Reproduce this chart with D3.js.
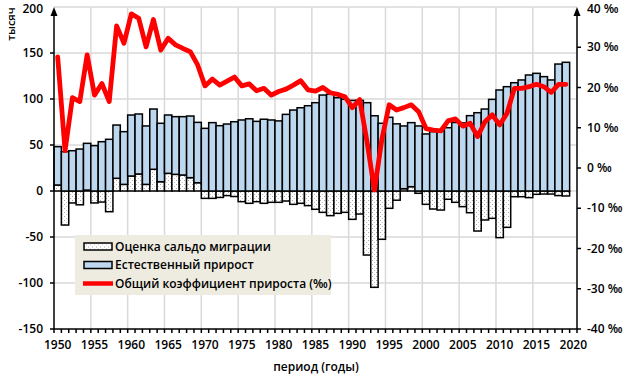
<!DOCTYPE html>
<html>
<head>
<meta charset="utf-8">
<script src="https://cdn.jsdelivr.net/npm/d3@7"></script>
<style>
  body { margin: 0; background: #fff; }
  text { font-family: "Open Sans", "DejaVu Sans", sans-serif; font-weight: 600; fill: #000; }
</style>
</head>
<body>
<div class="chart"></div>
<script>
const width = 627;
const height = 380;

// годы 1950..2019 (2020 - пустая позиция на оси)
const years = d3.range(1950, 2020);
const axisYears = d3.range(1950, 2021);

// оценка сальдо миграции, тыс.
const migration = [
  6.5, -37, -13, -15, 1, -13, -12, -22.5, 13.8, 7.2,
  16.3, 18.5, 7.2, 23.6, 10.1, 19.2, 18.1, 17.4, 14.5, 9,
  -8, -8, -7, -5, -6, -11.6, -13.4, -11.6, -13.4, -12.3,
  -12.3, -10.9, -14.5, -13.4, -15.9, -19.9, -23.2, -26.8, -24.3, -23.2,
  -30.8, -25, -69.6, -104.7, -52.5, -18.8, -10, 2.5, 4.7, -2.5,
  -14.5, -19.6, -20.7, -9, -12.3, -17, -23.6, -43.5, -31.5, -29.7,
  -50.7, -39.5, -6.2, -6.2, -7.2, -3.6, -3.3, -3.3, -5, -5.4
];

// естественный прирост, тыс.
const natural = [
  41.7, 42.7, 43.8, 45.6, 50.8, 49.3, 53.6, 56.2, 57.9, 57.3,
  66.3, 65.2, 63.5, 65.5, 63.5, 63.4, 62.7, 63.4, 67, 65.6,
  68.1, 74.3, 71, 72.8, 75.3, 77.2, 78.5, 75.7, 78, 77.2,
  76.2, 83.3, 88, 90.5, 92.7, 96, 104.3, 105.2, 101.4, 99.8,
  98.5, 98.5, 96, 81.8, 73.6, 80.1, 73, 68.2, 69.6, 70.7,
  62, 64.5, 65.2, 68.8, 74.5, 74, 81.9, 85.1, 89.1, 99.6,
  109.8, 113.4, 117.7, 120.7, 126.1, 127.9, 124.3, 120.7, 138, 139.9
];

// общий коэффициент прироста, ‰
const growthRate = [
  27.6, 4.3, 17.5, 16.5, 28.1, 18.1, 21, 16.5, 35.3, 31,
  38.3, 37.2, 30.1, 36.9, 29.3, 32.2, 30.6, 29.7, 28.9, 25.6,
  20.4, 22.1, 20.6, 21.6, 22.6, 20.4, 20.9, 19.2, 19.8, 18.1,
  19, 19.6, 20.6, 21.7, 19.4, 19.1, 20, 18.7, 18.3, 17.7,
  15, 17, 6.5, -5.5, 7, 15.7, 14.4, 15, 15.7, 14,
  9.8, 9.4, 9.2, 11.7, 12.2, 10.4, 11.1, 7.8, 11.5, 13.2,
  10.7, 13.6, 19.8, 19.8, 20.2, 20.8, 20.2, 18.8, 20.8, 20.8
];

const leftTicks = [-150, -100, -50, 0, 50, 100, 150, 200];
const rightTicks = [-40, -30, -20, -10, 0, 10, 20, 30, 40];
const labelYears = d3.range(1950, 2021, 5);

const legendItems = [
  {name: "Оценка сальдо миграции", type: "hatch"},
  {name: "Естественный прирост", type: "blue"},
  {name: "Общий коэффициент прироста (‰)", type: "line"}
];

const rows = years.map((y, i) => ({year: y, migration: migration[i], natural: natural[i], rate: growthRate[i]}));

const svg = d3.select(".chart")
    .append("svg")
    .attr("width", width)
    .attr("height", height)
    .attr("viewBox", [0, 0, width, height]);

const plot = {left: 54, right: 577, top: 7, bottom: 329};

const x = d3.scaleBand()
    .domain(axisYears)
    .range([plot.left, plot.right])
    .padding(0);

const y = d3.scaleLinear().domain([-150, 200]).range([plot.bottom, plot.top]);
const y2 = d3.scaleLinear().domain([-40, 40]).range([plot.bottom, plot.top]);

// pattern for migration bars
const defs = svg.append("defs");
const pat = defs.append("pattern")
    .attr("id", "dots")
    .attr("patternUnits", "userSpaceOnUse")
    .attr("width", 4)
    .attr("height", 4);
pat.append("rect").attr("width", 4).attr("height", 4).attr("fill", "#fff");
pat.append("rect").attr("x", 0).attr("y", 0).attr("width", 1).attr("height", 1).attr("fill", "#a8a8a8");
pat.append("rect").attr("x", 2).attr("y", 2).attr("width", 1).attr("height", 1).attr("fill", "#c0c0c0");

const fills = {migration: "url(#dots)", natural: "#bdd7ee"};

// gridlines
svg.append("g")
    .selectAll("line")
    .data(leftTicks.filter(d => d > -150))
    .join("line")
    .attr("x1", plot.left).attr("x2", plot.right)
    .attr("y1", d => y(d)).attr("y2", d => y(d))
    .attr("stroke", "#d9d9d9")
    .attr("stroke-width", 1.5);

svg.append("g")
    .selectAll("line")
    .data(labelYears.filter(d => d > 1950 && d < 2020))
    .join("line")
    .attr("x1", d => x(d)).attr("x2", d => x(d))
    .attr("y1", plot.top).attr("y2", plot.bottom)
    .attr("stroke", "#d9d9d9")
    .attr("stroke-width", 1.5);

// stacked bars
const series = d3.stack()
    .keys(["migration", "natural"])
    .offset(d3.stackOffsetDiverging)(rows);

svg.append("g")
    .selectAll("g")
    .data(series)
    .join("g")
    .attr("fill", d => fills[d.key])
    .selectAll("rect")
    .data(d => d)
    .join("rect")
    .attr("x", d => x(d.data.year))
    .attr("width", x.bandwidth())
    .attr("y", d => y(Math.max(d[0], d[1])))
    .attr("height", d => Math.abs(y(d[0]) - y(d[1])))
    .attr("stroke", "#000")
    .attr("stroke-width", 1.5);

// line
const line = d3.line()
    .x(d => x(d.year) + x.bandwidth() / 2)
    .y(d => y2(d.rate));

svg.append("path")
    .datum(rows)
    .attr("fill", "none")
    .attr("stroke", "#ff0000")
    .attr("stroke-width", 4.8)
    .attr("stroke-linejoin", "round")
    .attr("stroke-linecap", "round")
    .attr("d", line);

// axes
const axisG = svg.append("g").attr("stroke", "#000").attr("stroke-width", 1.5);
axisG.append("line").attr("x1", plot.left).attr("x2", plot.left).attr("y1", plot.bottom).attr("y2", plot.top + 6);
axisG.append("line").attr("x1", plot.right).attr("x2", plot.right).attr("y1", plot.bottom).attr("y2", plot.top + 6);
axisG.append("line").attr("x1", plot.left).attr("x2", plot.right).attr("y1", plot.bottom).attr("y2", plot.bottom);

[plot.left, plot.right].forEach(ax => {
    svg.append("path")
        .attr("d", `M${ax},${plot.top}L${ax - 3.5},${plot.top + 9}L${ax + 3.5},${plot.top + 9}Z`)
        .attr("fill", "#000");
});

// left ticks and labels
axisG.selectAll(".lt")
    .data(leftTicks.filter(d => d < 200))
    .join("line")
    .attr("x1", plot.left - 4).attr("x2", plot.left)
    .attr("y1", d => y(d)).attr("y2", d => y(d));

svg.append("g")
    .selectAll("text")
    .data(leftTicks)
    .join("text")
    .attr("x", 43)
    .attr("y", d => Math.max(y(d), 9))
    .attr("dy", "0.35em")
    .attr("text-anchor", "end")
    .style("font-size", "12px")
    .text(d => d);

// right ticks and labels
axisG.selectAll(".rt")
    .data(rightTicks.filter(d => d < 40))
    .join("line")
    .attr("x1", plot.right).attr("x2", plot.right + 4)
    .attr("y1", d => y2(d)).attr("y2", d => y2(d));

svg.append("g")
    .selectAll("text")
    .data(rightTicks)
    .join("text")
    .attr("x", 587)
    .attr("y", d => Math.max(y2(d), 9))
    .attr("dy", "0.35em")
    .style("font-size", "12px")
    .text(d => d + " ‰");

// bottom ticks
axisG.selectAll(".bt")
    .data(axisYears.concat([2021]))
    .join("line")
    .attr("x1", d => d === 2021 ? plot.right : x(d))
    .attr("x2", d => d === 2021 ? plot.right : x(d))
    .attr("y1", plot.bottom).attr("y2", plot.bottom + 4);

svg.append("g")
    .selectAll("text")
    .data(labelYears)
    .join("text")
    .attr("x", d => x(d) + x.bandwidth() / 2)
    .attr("y", 345)
    .attr("dy", "0.35em")
    .attr("text-anchor", "middle")
    .style("font-size", "12px")
    .text(d => d);

svg.append("text")
    .attr("x", 316)
    .attr("y", 367)
    .attr("dy", "0.35em")
    .attr("text-anchor", "middle")
    .style("font-size", "12px")
    .text("период (годы)");

svg.append("text")
    .attr("transform", "translate(11,24) rotate(-90)")
    .attr("dy", "0.35em")
    .attr("text-anchor", "middle")
    .style("font-size", "11px")
    .text("тысяч");

// legend
const legend = svg.append("g");
legend.append("rect")
    .attr("x", 75).attr("y", 235)
    .attr("width", 256).attr("height", 60)
    .attr("fill", "#eeece1");

const li = legend.selectAll("g")
    .data(legendItems)
    .join("g")
    .attr("transform", (d, i) => `translate(0,${246.5 + i * 18.5})`);

li.filter(d => d.type !== "line")
    .append("rect")
    .attr("x", 84).attr("y", -3.5)
    .attr("width", 28).attr("height", 7)
    .attr("fill", d => d.type === "hatch" ? "url(#dots)" : "#bdd7ee")
    .attr("stroke", "#000")
    .attr("stroke-width", 1.5);

li.filter(d => d.type === "line")
    .append("line")
    .attr("x1", 83).attr("x2", 113)
    .attr("stroke", "#ff0000")
    .attr("stroke-width", 4.5);

li.append("text")
    .attr("x", 115)
    .attr("dy", "0.35em")
    .style("font-size", "12px")
    .text(d => d.name);
</script>
</body>
</html>
